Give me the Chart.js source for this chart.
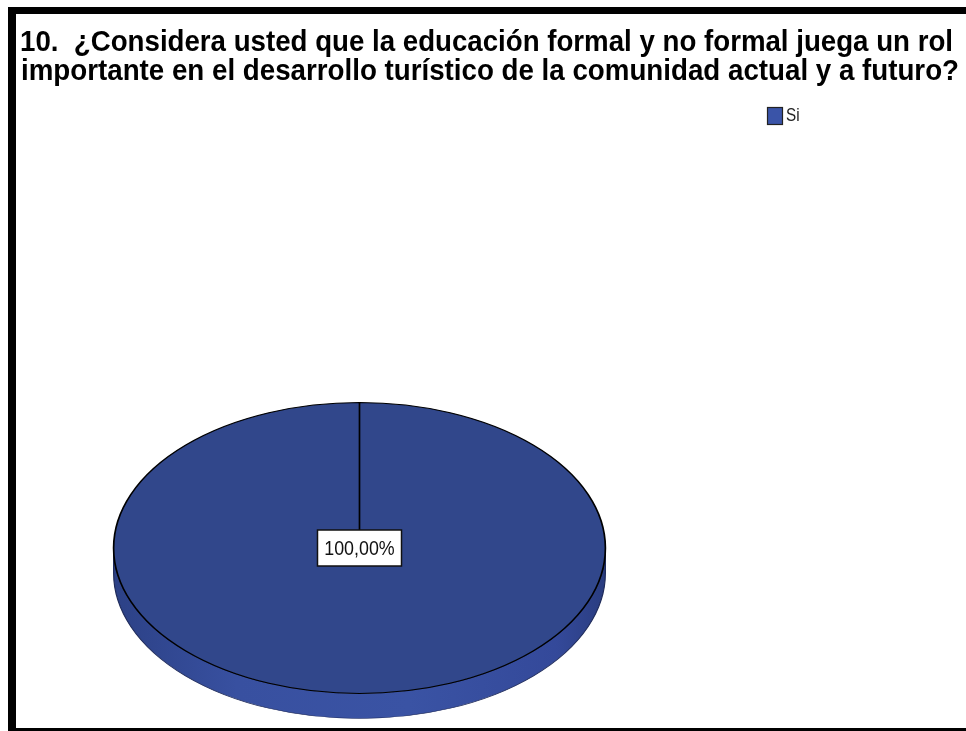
<!DOCTYPE html>
<html>
<head>
<meta charset="utf-8">
<script src="https://cdn.jsdelivr.net/npm/chart.js@4/dist/chart.umd.min.js"></script>
<style>
  body { margin: 0; background: #fff; overflow: hidden; }
  #wrap { width: 966px; height: 731px; position: relative; }
</style>
</head>
<body>
<div id="wrap"><canvas id="pie"></canvas></div>
<script>
// datos del gráfico
const categories = ['Si'];
const percentValues = [100];
const titleLines = [
  '10.  ¿Considera usted que la educación formal y no formal juega un rol',
  'importante en el desarrollo turístico de la comunidad actual y a futuro?'
];

const topColor = '#31478b';
const stretchX = 1.69;   // elipse horizontal
const depth = 25;        // grosor del pastel 3D

// fondo, marco, titulo y leyenda
const framePlugin = {
  id: 'frame',
  beforeDraw(chart) {
    const ctx = chart.ctx;
    ctx.save();
    ctx.fillStyle = '#fff';
    ctx.fillRect(0, 0, chart.width, chart.height);
    ctx.fillStyle = '#000';
    ctx.fillRect(8, 7, 8, 724);
    ctx.fillRect(8, 7, 958, 7);
    ctx.fillRect(8, 728, 958, 4);

    // titulo comprimido al ancho
    ctx.font = 'bold 29px "Liberation Sans", Arial, sans-serif';
    ctx.textBaseline = 'alphabetic';
    const spans = [[20, 953, 51], [21, 959, 80]];
    titleLines.forEach(function (line, i) {
      const w = ctx.measureText(line).width;
      const target = spans[i][1] - spans[i][0];
      ctx.save();
      ctx.translate(spans[i][0], spans[i][2]);
      ctx.scale(target / w, 1);
      ctx.fillText(line, 0, 0);
      ctx.restore();
    });

    // leyenda
    categories.forEach(function (cat, i) {
      const y = 107 + i * 22;
      ctx.fillStyle = '#3a54a8';
      ctx.fillRect(767, y, 15, 17);
      ctx.strokeStyle = '#222';
      ctx.lineWidth = 1.2;
      ctx.strokeRect(767.5, y + 0.5, 15, 17);
      ctx.fillStyle = '#222';
      ctx.font = '18px "Liberation Sans", Arial, sans-serif';
      ctx.textBaseline = 'middle';
      ctx.save();
      ctx.translate(786, y + 9);
      ctx.scale(0.85, 1);
      ctx.fillText(cat, 0, 0);
      ctx.restore();
    });
    ctx.restore();
  },
  beforeDatasetsDraw(chart) {
    const ctx = chart.ctx;
    const arc = chart.getDatasetMeta(0).data[0];
    const cx = arc.x, cy = arc.y, r = arc.outerRadius;
    ctx.save();
    ctx.translate(cx, 0);
    ctx.scale(stretchX, 1);
    ctx.translate(-cx, 0);

    // lado del pastel
    const g = ctx.createLinearGradient(cx - r, 0, cx + r, 0);
    g.addColorStop(0, '#2c4186');
    g.addColorStop(0.25, '#3850a0');
    g.addColorStop(0.6, '#3a53a4');
    g.addColorStop(0.9, '#34499a');
    g.addColorStop(1, '#2a3d80');
    ctx.beginPath();
    ctx.moveTo(cx + r, cy);
    ctx.lineTo(cx + r, cy + depth);
    ctx.arc(cx, cy + depth, r, 0, Math.PI, false);
    ctx.lineTo(cx - r, cy);
    ctx.arc(cx, cy, r, Math.PI, 0, true);
    ctx.closePath();
    ctx.fillStyle = g;
    ctx.fill();
    ctx.lineWidth = 0.7;
    ctx.strokeStyle = '#1f2b5a';
    ctx.stroke();
  },
  afterDatasetsDraw(chart) {
    const ctx = chart.ctx;
    ctx.restore();
    const arc = chart.getDatasetMeta(0).data[0];
    const total = percentValues.reduce(function (a, b) { return a + b; }, 0);
    const txt = (percentValues[0] / total * 100).toFixed(2).replace('.', ',') + '%';
    ctx.save();
    ctx.fillStyle = '#fff';
    ctx.fillRect(arc.x - 42, arc.y - 18, 84, 36);
    ctx.strokeStyle = '#111';
    ctx.lineWidth = 1.5;
    ctx.strokeRect(arc.x - 42, arc.y - 18, 84, 36);
    ctx.fillStyle = '#111';
    ctx.font = '21px "Liberation Sans", Arial, sans-serif';
    ctx.textBaseline = 'middle';
    ctx.textAlign = 'center';
    ctx.translate(arc.x, arc.y + 1);
    ctx.scale(0.85, 1);
    ctx.fillText(txt, 0, 0);
    ctx.restore();
  }
};

new Chart(document.getElementById('pie'), {
  type: 'pie',
  data: {
    labels: categories,
    datasets: [{
      data: percentValues,
      backgroundColor: [topColor],
      borderColor: '#000',
      borderWidth: 1
    }]
  },
  options: {
    responsive: true,
    maintainAspectRatio: false,
    animation: false,
    layout: { padding: { top: 402, bottom: 37, left: 113, right: 360 } },
    plugins: {
      legend: { display: false },
      title: { display: false },
      tooltip: { enabled: false }
    },
    events: []
  },
  plugins: [framePlugin]
});
</script>
</body>
</html>
